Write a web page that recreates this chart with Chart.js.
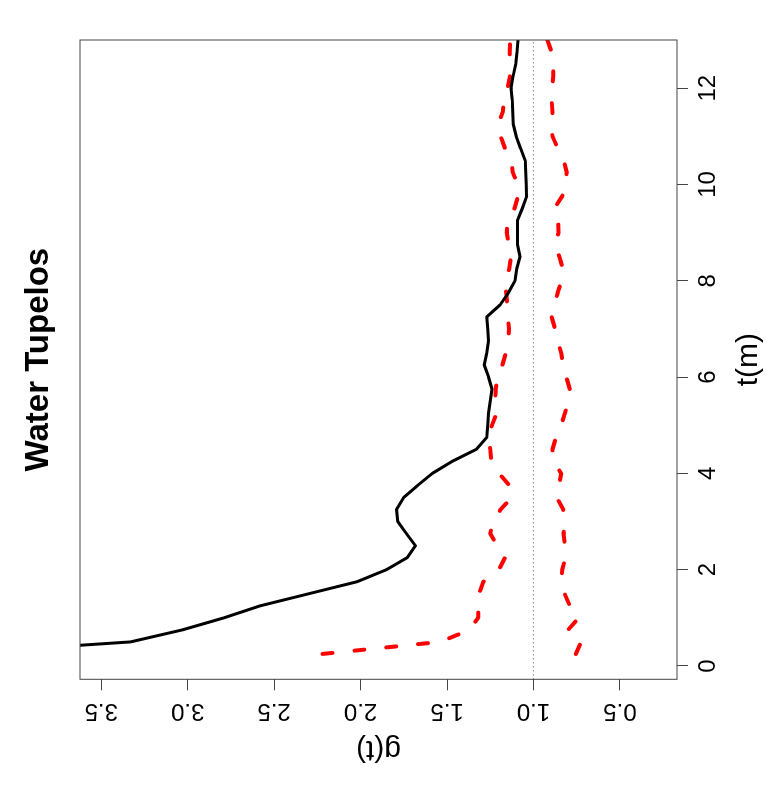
<!DOCTYPE html>
<html>
<head>
<meta charset="utf-8">
<script src="https://cdn.jsdelivr.net/npm/chart.js@4"></script>
<style>
  body { margin: 0; overflow: hidden; background: #fff; }
  /* the R plot is turned a quarter turn counter-clockwise */
  #wrap { position: absolute; left: 0; top: 0; width: 800px; height: 777px;
          transform-origin: 0 0; transform: translate(0, 800px) rotate(-90deg); }
</style>
</head>
<body>
<div id="wrap"><canvas id="myChart" width="800" height="777"></canvas></div>
<script>
// distance t (m)
var tVals = [0.25, 0.5, 0.75, 1, 1.25, 1.5, 1.75, 2, 2.25, 2.5, 2.75, 3, 3.25, 3.5, 3.75, 4,
             4.25, 4.5, 4.75, 5, 5.25, 5.5, 5.75, 6, 6.25, 6.5, 6.75, 7, 7.25, 7.5, 7.75, 8,
             8.25, 8.5, 8.75, 9, 9.25, 9.5, 9.75, 10, 10.25, 10.5, 10.75, 11, 11.25, 11.5, 11.75, 12,
             12.25, 12.5, 12.75, 13];
// observed g(t)
var gObs = [4.37, 3.33, 3.03, 2.79, 2.58, 2.30, 2.02, 1.85, 1.73, 1.683, 1.735, 1.785, 1.792, 1.75, 1.67, 1.585,
            1.47, 1.33, 1.27, 1.265, 1.26, 1.25, 1.24, 1.26, 1.285, 1.27, 1.26, 1.265, 1.27, 1.193, 1.145, 1.107,
            1.097, 1.078, 1.093, 1.093, 1.093, 1.065, 1.04, 1.042, 1.045, 1.048, 1.075, 1.10, 1.117, 1.12, 1.123, 1.13,
            1.118, 1.103, 1.095, 1.09];
// envelope hi / lo
var gHi = [2.22, 1.54, 1.37, 1.32, 1.32, 1.315, 1.29, 1.20, 1.165, 1.21, 1.25, 1.235, 1.19, 1.126, 1.14, 1.20,
           1.245, 1.25, 1.26, 1.24, 1.213, 1.222, 1.218, 1.21, 1.18, 1.16, 1.145, 1.142, 1.149, 1.152, 1.158, 1.163,
           1.14, 1.13, 1.142, 1.155, 1.15, 1.11, 1.09, 1.092, 1.12, 1.128, 1.165, 1.19, 1.204, 1.178, 1.17, 1.15,
           1.136, 1.14, 1.137, 1.135];
var gLo = [0.755, 0.725, 0.80, 0.738, 0.79, 0.82, 0.838, 0.834, 0.815, 0.818, 0.826, 0.818, 0.828, 0.866, 0.853, 0.84,
           0.885, 0.89, 0.87, 0.84, 0.818, 0.80, 0.79, 0.81, 0.828, 0.84, 0.86, 0.875, 0.895, 0.878, 0.86, 0.838,
           0.83, 0.85, 0.876, 0.855, 0.857, 0.88, 0.835, 0.812, 0.808, 0.825, 0.86, 0.89, 0.898, 0.89, 0.895, 0.892,
           0.886, 0.886, 0.895, 0.92];

var T_MIN = -0.277, T_MAX = 13.0;
var G_MIN = 0.17, G_MAX = 3.623;
var G_REF = 1;

function pts(ys) {
    return tVals.map(function (t, i) { return {x: t, y: ys[i]}; });
}

Chart.defaults.font.family = "'Liberation Sans', Arial, sans-serif";
Chart.defaults.color = '#000';

// box round the plot region, like R's box()
var boxPlugin = {
    id: 'box',
    afterDatasetsDraw: function (chart) {
        var a = chart.chartArea, ctx = chart.ctx;
        ctx.save();
        ctx.strokeStyle = '#444';
        ctx.lineWidth = 1;
        ctx.strokeRect(a.left, a.top, a.right - a.left, a.bottom - a.top);
        ctx.restore();
    }
};

var ctx = document.getElementById('myChart').getContext('2d');
var myChart = new Chart(ctx, {
    type: 'line',
    data: {
        datasets: [
            {
                label: 'obs',
                data: pts(gObs),
                borderColor: '#000',
                borderWidth: 3,
                borderCapStyle: 'round',
                borderJoinStyle: 'round',
                pointRadius: 0,
                tension: 0,
                clip: 0
            },
            {
                label: 'hi',
                data: pts(gHi),
                borderColor: '#ff0000',
                borderWidth: 4,
                borderDash: [10, 22],
                borderCapStyle: 'round',
                borderJoinStyle: 'round',
                pointRadius: 0,
                tension: 0,
                clip: 0
            },
            {
                label: 'lo',
                data: pts(gLo),
                borderColor: '#ff0000',
                borderWidth: 4,
                borderDash: [10, 22],
                borderCapStyle: 'round',
                borderJoinStyle: 'round',
                pointRadius: 0,
                tension: 0,
                clip: 0
            },
            {
                label: 'ref',
                data: [{x: T_MIN, y: G_REF}, {x: T_MAX, y: G_REF}],
                borderColor: '#666',
                borderWidth: 1,
                borderDash: [1, 3],
                pointRadius: 0,
                clip: 0
            }
        ]
    },
    plugins: [boxPlugin],
    options: {
        responsive: false,
        animation: false,
        devicePixelRatio: 1,
        layout: { padding: { left: 0, right: 40, top: 0, bottom: 0 } },
        plugins: {
            legend: { display: false },
            tooltip: { enabled: false },
            title: {
                display: true,
                text: 'Water Tupelos',
                fullSize: false,
                color: '#000',
                font: { size: 33, weight: 'bold', lineHeight: 1 },
                padding: { top: 22.5, bottom: 24.5 }
            }
        },
        scales: {
            x: {
                type: 'linear',
                position: 'bottom',
                min: T_MIN,
                max: T_MAX,
                afterFit: function (scale) { scale.height = 100; },
                grid: { drawOnChartArea: false, tickLength: 11, color: '#444' },
                border: { display: false },
                ticks: {
                    stepSize: 2,
                    includeBounds: false,
                    autoSkip: false,
                    maxRotation: 0,
                    padding: 6,
                    font: { size: 24 },
                    color: '#000'
                },
                title: {
                    display: true,
                    text: 't(m)',
                    font: { size: 30, lineHeight: 1 },
                    padding: { top: 0, bottom: 13 },
                    color: '#000'
                }
            },
            y: {
                type: 'linear',
                min: G_MIN,
                max: G_MAX,
                afterFit: function (scale) { scale.width = 120.7; },
                grid: { drawOnChartArea: false, tickLength: 11, color: '#444' },
                border: { display: false },
                ticks: {
                    stepSize: 0.5,
                    includeBounds: false,
                    autoSkip: false,
                    minRotation: 90,
                    maxRotation: 90,
                    crossAlign: 'center',
                    padding: 4,
                    font: { size: 24 },
                    color: '#000',
                    callback: function (v) { return v.toFixed(1); }
                },
                title: {
                    display: true,
                    text: 'g(t)',
                    font: { size: 30, lineHeight: 1 },
                    padding: { top: 36, bottom: 0 },
                    color: '#000'
                }
            }
        }
    }
});
</script>
</body>
</html>
